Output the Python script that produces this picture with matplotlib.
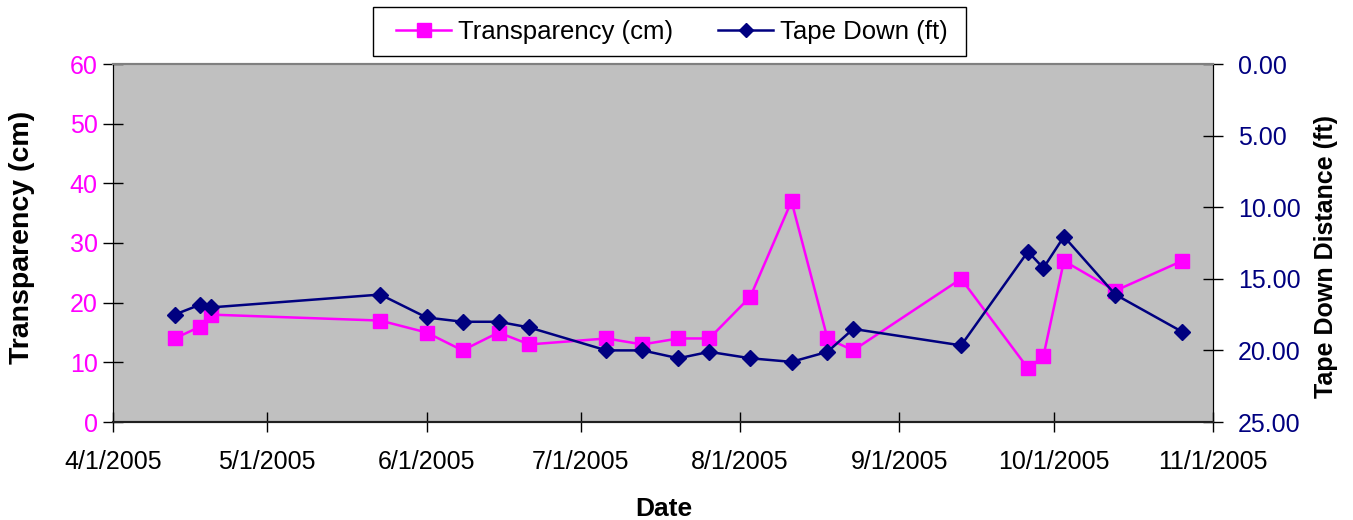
import matplotlib
matplotlib.use("Agg")
import matplotlib.pyplot as plt
import matplotlib.dates as mdates
from matplotlib.lines import Line2D
from matplotlib.patches import Rectangle
import datetime as dt

plt.rcParams['font.family'] = ['Liberation Sans', 'DejaVu Sans']

dates = ["2005-04-13", "2005-04-18", "2005-04-20", "2005-05-23", "2005-06-01",
         "2005-06-08", "2005-06-15", "2005-06-21", "2005-07-06", "2005-07-13",
         "2005-07-20", "2005-07-26", "2005-08-03", "2005-08-11", "2005-08-18",
         "2005-08-23", "2005-09-13", "2005-09-26", "2005-09-29", "2005-10-03",
         "2005-10-13", "2005-10-26"]
transparency = [14, 16, 18, 17, 15, 12, 15, 13, 14, 13, 14, 14, 21, 37, 14, 12,
                24, 9, 11, 27, 22, 27]
tape_down = [17.5, 16.8, 17.0, 16.1, 17.7, 18.0, 18.0, 18.4, 20.0, 20.0, 20.55,
             20.1, 20.55, 20.8, 20.1, 18.5, 19.65, 13.1, 14.25, 12.05, 16.1, 18.7]
x_ticks = ["2005-04-01", "2005-05-01", "2005-06-01", "2005-07-01", "2005-08-01",
           "2005-09-01", "2005-10-01", "2005-11-01"]
left_ticks = [0, 10, 20, 30, 40, 50, 60]
right_ticks = [0, 5, 10, 15, 20, 25]

MAG = "#FF00FF"
NAVY = "#000080"

d = [dt.datetime.strptime(s, "%Y-%m-%d") for s in dates]
xt = [dt.datetime.strptime(s, "%Y-%m-%d") for s in x_ticks]

W, H = 1353, 520
fig = plt.figure(figsize=(W/100, H/100), dpi=100)
ax = fig.add_axes([113/W, 1-422/H, 1100/W, 358/H])
ax.set_facecolor("#C0C0C0")
ax2 = ax.twinx()

ax.plot(d, transparency, color=MAG, lw=1.8, marker="s", ms=9.8,
        markeredgecolor=MAG, markerfacecolor=MAG, zorder=3)
ax2.plot(d, tape_down, color=NAVY, lw=1.8, marker="D", ms=8.5,
         markeredgecolor=NAVY, markerfacecolor=NAVY, zorder=3)

ax.set_xlim(xt[0], xt[-1])
ax.set_ylim(0, 60)
ax2.set_ylim(25, 0)

ax.set_xticks(xt)
ax.xaxis.set_major_formatter(mdates.DateFormatter("%-m/%-d/%Y"))
ax.set_yticks(left_ticks)
ax.set_yticklabels([str(v) for v in left_ticks])
ax2.set_yticks(right_ticks)
ax2.set_yticklabels([f"{v:.2f}" for v in right_ticks])

ax.tick_params(axis="x", direction="inout", length=14, width=1, labelsize=18,
               pad=13, colors="black")
ax.tick_params(axis="y", direction="inout", length=14, width=1, labelsize=18,
               pad=4, labelcolor=MAG)
ax2.tick_params(axis="y", direction="inout", length=14, width=1, labelsize=18,
                pad=11, labelcolor=NAVY)

for a in (ax, ax2):
    a.spines["top"].set_color("#808080")
    a.spines["top"].set_linewidth(1.5)
    a.spines["left"].set_color("black")
    a.spines["right"].set_color("black")
    a.spines["bottom"].set_color("#202020")
    a.spines["bottom"].set_linewidth(1.5)

ax.set_xlabel("Date", fontsize=19, fontweight="bold")
ax.xaxis.set_label_coords((664-113)/1100, (422-497)/358)
ax.set_ylabel("Transparency (cm)", fontsize=20.5, fontweight="bold")
ax.yaxis.set_label_coords((35-113)/1100, (422-237)/358)
ax2.set_ylabel("Tape Down Distance (ft)", fontsize=18, fontweight="bold")
ax2.yaxis.set_label_coords((1314-113)/1100, (422-256)/358)

# legend frame
fig.patches.append(Rectangle((373/W, 1-56/H), (966-373)/W, (56-7)/H,
                             transform=fig.transFigure, facecolor="white",
                             edgecolor="black", linewidth=1.0, zorder=1))
handles = [Line2D([], [], color=MAG, lw=1.8, marker="s", ms=9.5),
           Line2D([], [], color=NAVY, lw=1.8, marker="D", ms=7.5)]
leg = fig.legend(handles, ["Transparency (cm)", "Tape Down (ft)"],
                 loc="center", bbox_to_anchor=(672/W, 1-32/H), ncol=2,
                 fontsize=18.5, frameon=False,
                 handlelength=2.14, columnspacing=1.75, handletextpad=0.27,
                 borderpad=0.0)
leg.set_zorder(2)

fig.savefig("out.png", dpi=100)
